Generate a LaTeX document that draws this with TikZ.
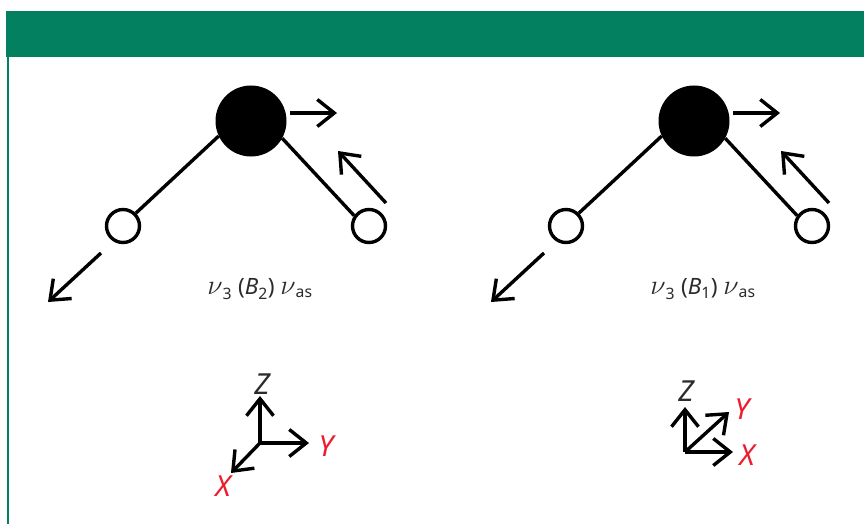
\documentclass[tikz,border=0pt]{standalone}
\usepackage{fontspec}
\setmainfont{Noto Sans}
\usetikzlibrary{arrows.meta}
\definecolor{band}{HTML}{03805F}
\definecolor{axred}{HTML}{ED1C2E}
\definecolor{txt}{HTML}{2B2A2C}
\newcommand{\bignu}{\scalebox{1.35}{\(\nu\)}}
\tikzset{
  x=1pt,y=-1pt,
  bond/.style={line width=3.4pt,black},
  move/.style={line width=3.4pt,black,-{Straight Barb[length=17pt,width=27pt,line width=3.4pt]}},
  axis/.style={move},
  bigatom/.style={circle,fill=black,minimum size=71pt,inner sep=0pt},
  smallatom/.style={circle,fill=white,draw=black,line width=3.4pt,minimum size=33pt,inner sep=0pt},
  axlab/.style={font=\fontsize{29}{29}\selectfont\itshape,inner sep=0pt,text=txt},
  axlabr/.style={axlab,text=axred},
  caption/.style={font=\fontsize{22.5}{25}\selectfont,text=txt,inner sep=0pt},
}
\begin{document}
\begin{tikzpicture}
\useasboundingbox (0,0) rectangle (864,524);
\fill[white] (0,0) rectangle (864,524);
\coordinate (railtop) at (7.5,57);
\coordinate (railbot) at (7.5,524);
\draw[band,line width=2pt] (railtop) -- (railbot);
\node[fill=band,minimum width=858pt,minimum height=46pt,inner sep=0pt,anchor=north west] (banner) at (6,11) {};
% left molecule
\node[bigatom] (c1) at (251,121) {};
\node[smallatom] (a1) at (123,226) {};
\node[smallatom] (b1) at (369,226) {};
\draw[bond] (c1.205) -- (a1.45);
\draw[bond] (c1.-29) -- (b1.145);
\coordinate (m1s) at (290,113); \coordinate (m1e) at (337,113);
\coordinate (m2s) at (386,203); \coordinate (m2e) at (338,151);
\coordinate (m3s) at (101,253); \coordinate (m3e) at (48,302);
\draw[move] (m1s) -- (m1e);
\draw[move] (m2s) -- (m2e);
\draw[move] (m3s) -- (m3e);
\node[caption] (cap1) at (260,289) {\bignu\textsubscript{3} (\textit{B}\textsubscript{2}) \bignu\textsubscript{as}};
% right molecule
\node[bigatom] (c2) at (694,121) {};
\node[smallatom] (a2) at (566,226) {};
\node[smallatom] (b2) at (812,226) {};
\draw[bond] (c2.205) -- (a2.45);
\draw[bond] (c2.-29) -- (b2.145);
\coordinate (n1s) at (733,113); \coordinate (n1e) at (780,113);
\coordinate (n2s) at (829,203); \coordinate (n2e) at (781,151);
\coordinate (n3s) at (544,253); \coordinate (n3e) at (491,302);
\draw[move] (n1s) -- (n1e);
\draw[move] (n2s) -- (n2e);
\draw[move] (n3s) -- (n3e);
\node[caption] (cap2) at (703,289) {\bignu\textsubscript{3} (\textit{B}\textsubscript{1}) \bignu\textsubscript{as}};
% left axes
\coordinate (o1) at (260,443);
\coordinate (z1) at (260,396);
\coordinate (y1) at (309,443);
\coordinate (x1) at (231,473);
\draw[axis] (o1) -- (z1);
\draw[axis] (o1) -- (y1);
\draw[axis] (o1) -- (x1);
\node[axlab] (lz1) at (262,384) {Z};
\node[axlabr] (ly1) at (326,446) {Y};
\node[axlabr] (lx1) at (223,486) {X};
% right axes
\coordinate (o2) at (685,452);
\coordinate (z2) at (685,407);
\coordinate (y2) at (729,412);
\coordinate (x2) at (733,452);
\draw[axis] (o2) -- (z2);
\draw[axis] (o2) -- (y2);
\draw[axis] (o2) -- (x2);
\node[axlab] (lz2) at (686,391) {Z};
\node[axlabr] (ly2) at (742,409) {Y};
\node[axlabr] (lx2) at (747,455) {X};
\end{tikzpicture}
\end{document}
